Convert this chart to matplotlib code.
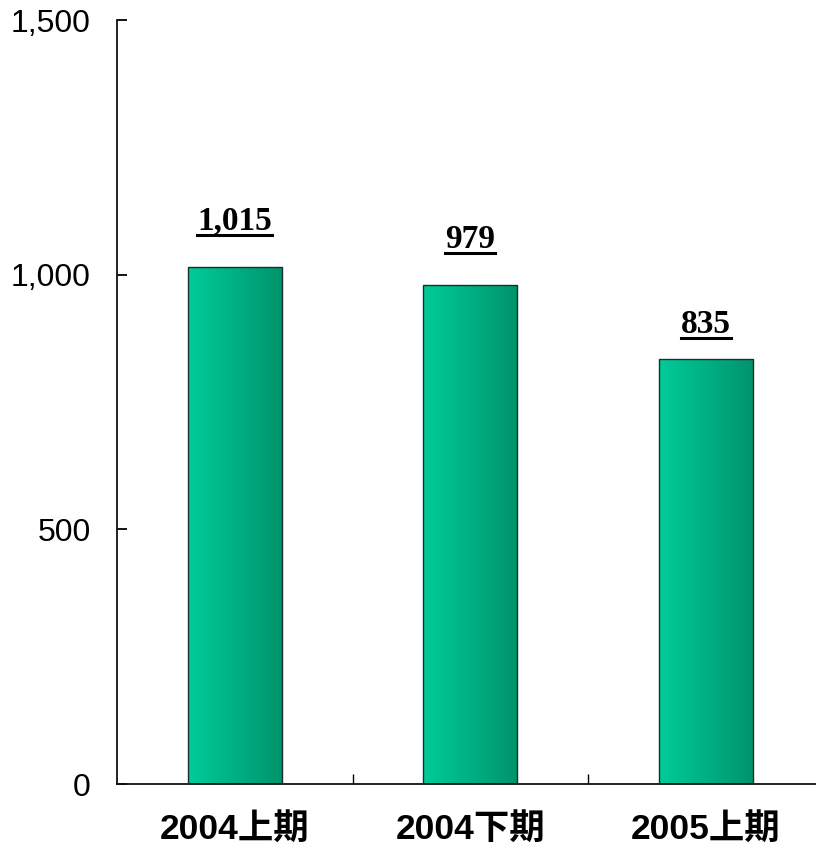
import matplotlib
matplotlib.use("Agg")
import matplotlib.pyplot as plt
import numpy as np
from matplotlib.colors import LinearSegmentedColormap
from matplotlib.lines import Line2D

# Half-year totals
periods = ["2004上期", "2004下期", "2005上期"]
values = [1015, 979, 835]
value_labels = ["1,015", "979", "835"]
y_ticks = [0, 500, 1000, 1500]
y_tick_labels = ["0", "500", "1,000", "1,500"]

# Label gap above each bar (pixels)
label_gaps = [37, 37, 26]

W, H = 816, 846
fig = plt.figure(figsize=(W / 100, H / 100), dpi=100)
ax = fig.add_axes([117 / W, 62 / H, (823.5 - 117) / W, (784 - 20) / H])

x = np.arange(len(periods))
bar_w = 0.4
cmap = LinearSegmentedColormap.from_list("grn", ["#00CC99", "#00936C"])
grad = np.linspace(0, 1, 256).reshape(1, -1)

bars = ax.bar(x, values, width=bar_w, facecolor="none", edgecolor="#1b2f28",
              linewidth=1.0, zorder=3)
for b in bars:
    x0, y0 = b.get_x(), b.get_y()
    im = ax.imshow(grad, cmap=cmap, aspect="auto", zorder=2,
                   extent=(x0, x0 + b.get_width(), y0, y0 + b.get_height()))
    im.set_clip_path(b)

ax.set_xlim(-0.5, len(periods) - 0.5)
ax.set_ylim(0, 1500)

for s in ("top", "right"):
    ax.spines[s].set_visible(False)
for s in ("left", "bottom"):
    ax.spines[s].set_linewidth(1.3)
    ax.spines[s].set_color("#111111")

ax.set_yticks(y_ticks)
ax.set_yticklabels(y_tick_labels, fontsize=23, family="Liberation Sans")
ax.tick_params(axis="y", direction="in", length=7, width=1.3, pad=19)

# Category boundary ticks on the x axis
ax.set_xticks(np.arange(0.5, len(periods) - 0.5, 1.0))
ax.set_xticklabels([])
ax.tick_params(axis="x", direction="in", length=7, width=1.0)
for i, p in enumerate(periods):
    ax.text(i, -90, p, ha="center", va="center", fontsize=25.5,
            fontweight="bold", family=["Liberation Sans", "Noto Sans CJK JP"])

fig.canvas.draw()
renderer = fig.canvas.get_renderer()
for i, (v, lab, gap) in enumerate(zip(values, value_labels, label_gaps)):
    # pixel position of the bar top, with the label baseline above it
    xc, ytop = ax.transData.transform((i, v))
    t = fig.text(xc / W, (ytop + gap) / H, lab,
                 ha="center", va="baseline", fontsize=24, fontweight="bold",
                 family="Liberation Serif")
    bb = t.get_window_extent(renderer)
    uy = (ytop + gap - 5) / H
    fig.add_artist(Line2D([bb.x0 / W, bb.x1 / W], [uy, uy], color="black",
                          linewidth=2.2, transform=fig.transFigure))

fig.savefig("out.png", dpi=100)
